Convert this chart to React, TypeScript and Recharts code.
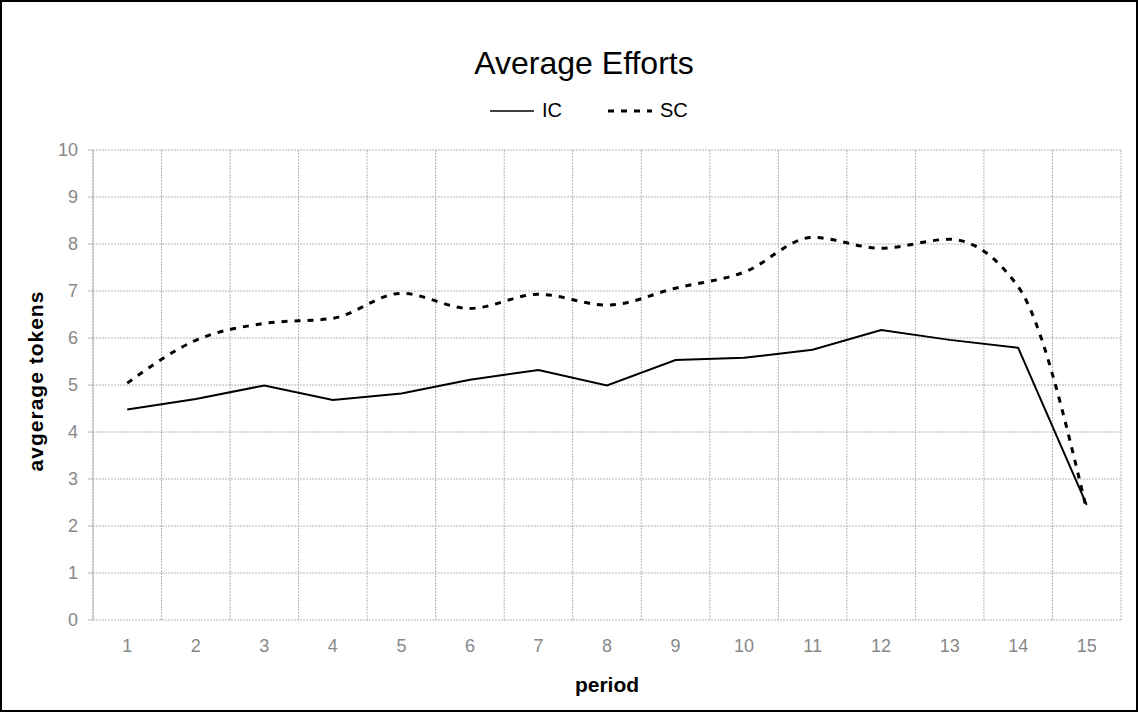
import React from 'react';
import { LineChart, Line, XAxis, YAxis, CartesianGrid } from 'recharts';

// Average effort (tokens) per period for the two treatments
const periods = [1, 2, 3, 4, 5, 6, 7, 8, 9, 10, 11, 12, 13, 14, 15];
const icValues = [4.48, 4.7, 4.99, 4.68, 4.82, 5.11, 5.32, 4.99, 5.53, 5.58, 5.75, 6.17, 5.96, 5.79, 2.45];
const scValues = [5.04, 5.95, 6.31, 6.42, 6.95, 6.63, 6.93, 6.7, 7.06, 7.4, 8.14, 7.91, 8.1, 7.09, 2.34];
const yTicks = [0, 1, 2, 3, 4, 5, 6, 7, 8, 9, 10];

const seriesList = [
  { key: 'ic', name: 'IC', dash: undefined as string | undefined, width: 2, curve: 'linear' as const },
  { key: 'sc', name: 'SC', dash: '6 7', width: 3, curve: 'monotone' as const },
];

const data = periods.map((p, i) => ({ period: p, ic: icValues[i], sc: scValues[i] }));
// category boundaries: grid lines and tick marks sit between periods
const boundaries = [...periods.map((p) => p - 0.5), periods[periods.length - 1] + 0.5];
const xDomain: [number, number] = [boundaries[0], boundaries[boundaries.length - 1]];

const FONT = '"Liberation Sans", Arial, Helvetica, sans-serif';
const GRID = '#b4b4b4';
const TICK_TEXT = '#888888';

function YTitle(props: any) {
  const vb = props.viewBox || { x: 0, y: 0, width: 0, height: 0 };
  const cx = vb.x + 35;
  const cy = vb.y + vb.height / 2 - 4;
  return (
    <text
      x={cx}
      y={cy}
      transform={`rotate(-90 ${cx} ${cy})`}
      textAnchor="middle"
      dominantBaseline="central"
      fontFamily={FONT}
      fontWeight="bold"
      fontSize={21}
      letterSpacing={1}
      fill="#000"
    >
      avgerage tokens
    </text>
  );
}

function Legend() {
  return (
    <div
      style={{
        position: 'absolute',
        top: 99,
        left: 490,
        display: 'flex',
        alignItems: 'center',
        fontFamily: FONT,
        fontSize: 20,
        color: '#000',
      }}
    >
      {seriesList.map((s, i) => (
        <div key={s.key} style={{ display: 'flex', alignItems: 'center', marginRight: i === 0 ? 46 : 0 }}>
          <svg width={46} height={10} style={{ marginRight: 6 }}>
            <line
              x1={0}
              y1={5}
              x2={44}
              y2={5}
              stroke="#000"
              strokeWidth={s.dash ? 3 : 1.5}
              strokeDasharray={s.dash}
            />
          </svg>
          <span>{s.name}</span>
        </div>
      ))}
    </div>
  );
}

export default function App() {
  return (
    <div style={{ position: 'absolute', left: 0, top: 0, width: 1138, height: 712, background: '#fff' }}>
      <div
        style={{
          position: 'absolute',
          top: 45,
          left: 0,
          width: 1168,
          textAlign: 'center',
          fontFamily: FONT,
          fontSize: 32,
          color: '#000',
        }}
      >
        Average Efforts
      </div>
      <Legend />
      <div style={{ position: 'absolute', left: 0, top: 0 }}>
        <LineChart width={1138} height={712} data={data} margin={{ top: 150, right: 17, left: 0, bottom: 0 }}>
          <CartesianGrid
            stroke={GRID}
            strokeDasharray="2 1"
            verticalValues={boundaries}
            horizontalValues={yTicks}
          />
          <XAxis
            xAxisId="edges"
            type="number"
            domain={xDomain}
            ticks={boundaries}
            tick={false}
            tickSize={6}
            height={0}
            axisLine={{ stroke: GRID }}
            tickLine={{ stroke: GRID }}
            allowDataOverflow
          />
          <XAxis
            dataKey="period"
            type="number"
            domain={xDomain}
            ticks={periods}
            interval={0}
            axisLine={false}
            tickLine={false}
            tickSize={0}
            tickMargin={19}
            height={92}
            tick={{ fill: TICK_TEXT, fontSize: 18, fontFamily: FONT }}
            label={{ value: 'period', position: 'insideBottom', offset: 20, fill: '#000', fontSize: 21, fontWeight: 'bold', fontFamily: FONT }}
            allowDataOverflow
          />
          <YAxis
            type="number"
            domain={[0, 10]}
            ticks={yTicks}
            interval={0}
            width={93}
            tickSize={5}
            tickMargin={10}
            axisLine={{ stroke: GRID }}
            tickLine={{ stroke: GRID }}
            tick={{ fill: TICK_TEXT, fontSize: 18, fontFamily: FONT }}
            label={<YTitle />}
          />
          {seriesList.map((s) => (
            <Line
              key={s.key}
              dataKey={s.key}
              name={s.name}
              type={s.curve}
              stroke="#000"
              strokeWidth={s.width}
              strokeDasharray={s.dash}
              dot={false}
              activeDot={false}
              isAnimationActive={false}
            />
          ))}
        </LineChart>
      </div>
      <div
        style={{
          position: 'absolute',
          left: 0,
          top: 0,
          width: 1138,
          height: 712,
          boxSizing: 'border-box',
          border: '2px solid #000',
          pointerEvents: 'none',
        }}
      />
    </div>
  );
}
